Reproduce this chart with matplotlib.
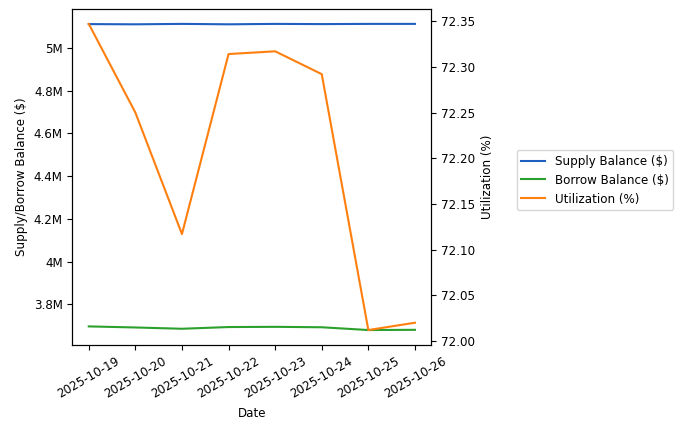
import matplotlib.pyplot as plt
from matplotlib.ticker import FuncFormatter
import pandas as pd

dates = pd.to_datetime(["2025-10-19", "2025-10-20", "2025-10-21", "2025-10-22",
                        "2025-10-23", "2025-10-24", "2025-10-25", "2025-10-26"])
supply = [5.112e6, 5.111e6, 5.113e6, 5.111e6, 5.113e6, 5.112e6, 5.113e6, 5.113e6]
borrow = [3.697e6, 3.692e6, 3.686e6, 3.694e6, 3.695e6, 3.693e6, 3.680e6, 3.681e6]
util = [72.347, 72.250, 72.117, 72.314, 72.317, 72.292, 72.012, 72.020]

plt.rcParams["font.size"] = 8.6


def fmt_m(v, pos):
    s = f"{v / 1e6:.1f}".rstrip("0").rstrip(".")
    return s + "M"


fig, ax = plt.subplots(figsize=(6.9, 4.29), dpi=100)
l1, = ax.plot(dates, supply, color="#1f5fbf", label="Supply Balance ($)")
l2, = ax.plot(dates, borrow, color="#2ca02c", label="Borrow Balance ($)")
ax.set_ylabel("Supply/Borrow Balance ($)")
ax.set_xlabel("Date")
ax.yaxis.set_major_formatter(FuncFormatter(fmt_m))
ax.set_xticks(dates)
ax.set_xticklabels([d.strftime("%Y-%m-%d") for d in dates], rotation=30)

ax2 = ax.twinx()
l3, = ax2.plot(dates, util, color="#ff7f0e", label="Utilization (%)")
ax2.set_ylabel("Utilization (%)")
ax2.yaxis.set_major_formatter(FuncFormatter(lambda v, p: f"{v:.2f}"))

fig.legend(handles=[l1, l2, l3], loc="center left", bbox_to_anchor=(0.74, 0.58))
fig.subplots_adjust(left=0.105, right=0.625, top=0.98, bottom=0.195)
fig.savefig("out.png")
